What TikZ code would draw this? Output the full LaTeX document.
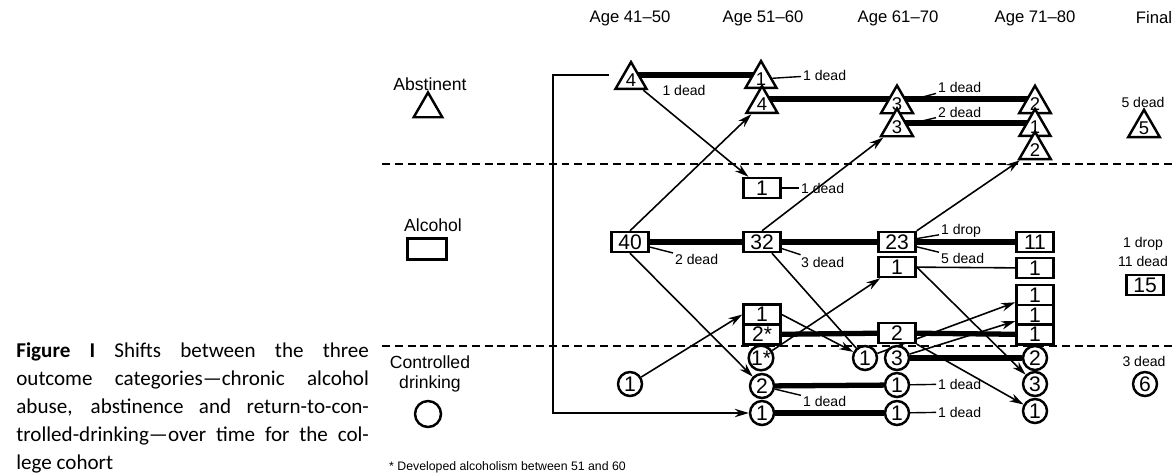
\documentclass[tikz,border=0pt]{standalone}
\usepackage{fontspec}
\setmainfont{Liberation Sans}
\newfontfamily\capfont{Carlito}
\usetikzlibrary{calc,arrows.meta,shapes.geometric,backgrounds}
\tikzset{
    every node/.style={
        font=\fontsize{10}{11.5}\selectfont
    },
    alc/.style={
        shape=rectangle,
        draw,
        line width=1.4pt,
        fill=white,
        minimum width=0.74cm,
        minimum height=0.4cm,
        inner sep=0pt,
        font=\fontsize{12}{13}\selectfont
    },
    ctl/.style={
        shape=circle,
        draw,
        line width=1.4pt,
        fill=white,
        minimum size=0.48cm,
        inner sep=0pt,
        font=\fontsize{12}{13}\selectfont
    },
    abst/.style={
        shape=regular polygon,
        regular polygon sides=3,
        draw,
        line width=1.4pt,
        fill=white,
        minimum size=0.66cm,
        inner sep=0pt,
        font=\fontsize{10.5}{11}\selectfont
    }
}

\begin{document}
\begin{tikzpicture}[
		x=0.02cm, y=-0.02cm,
		>={Stealth[length=8pt,width=4.8pt]},
		head/.style={font=\fontsize{9.5}{11}\selectfont},
		dead/.style={font=\fontsize{8}{9}\selectfont, inner sep=1pt},
		stay/.style={line width=3pt},
		move/.style={line width=0.9pt},
		tick/.style={line width=0.8pt},
		sep/.style={dash pattern=on 4.5pt off 2.8pt, line width=1.2pt}
		]
		\useasboundingbox (0,0) rectangle (1173,474);
		
		\node (h1) at (630,18) [head] {Age 41–50};
		\node (h2) at (763,18) [head] {Age 51–60};
		\node (h3) at (898,18) [head] {Age 61–70};
		\node (h4) at (1035,18) [head] {Age 71–80};
		\node (h5) at (1154,18) [head] {Final};
		
		% legend
		\node (lga) at (430,84) {Abstinent};
		\node (lgat) at (428,109) [abst] {};
		\node (lgb) at (433,225) {Alcohol};
		\node (lgbb) at (427,249) [alc, minimum width=0.78cm, minimum height=0.42cm] {};
		\node (lgc) at (430,374) [align=center] {Controlled\\drinking};
		\node (lgcc) at (428,414) [ctl, minimum size=0.52cm] {};
		
		\draw [sep] (382,164) -- (1173,164);
		\draw [sep] (382,346) -- (1173,346);
		
		% age 41-50
		\node (t41) at (631,80) [abst] {4};
		\node (b41) at (630,242) [alc] {40};
		\node (c41) at (630,384) [ctl] {1};
		
		% age 51-60
		\node (t51a) at (761,79) [abst] {1};
		\node (t51b) at (762,104) [abst] {4};
		\node (b51a) at (762,188) [alc] {1};
		\node (b51b) at (762,242) [alc] {32};
		\node (b51c) at (762,314.5) [alc] {1};
		\node (b51d) at (762,334.5) [alc] {2*};
		\node (c51a) at (761,358) [ctl] {1*};
		\node (c51b) at (762,386) [ctl] {2};
		\node (c51c) at (762,413) [ctl] {1};
		
		% age 61-70
		\node (t61a) at (897,104) [abst] {3};
		\node (t61b) at (897,127) [abst] {3};
		\node (b61a) at (897,242) [alc] {23};
		\node (b61b) at (897,267) [alc] {1};
		\node (b61c) at (897,333) [alc] {2};
		\node (c61a) at (865,358) [ctl] {1};
		\node (c61b) at (897,358) [ctl] {3};
		\node (c61c) at (897,385) [ctl] {1};
		\node (c61d) at (897,413) [ctl] {1};
		
		% age 71-80
		\node (t71a) at (1035,104) [abst] {2};
		\node (t71b) at (1035,127) [abst] {1};
		\node (t71c) at (1035,150) [abst] {2};
		\node (b71a) at (1035,242) [alc] {11};
		\node (b71b) at (1035,268) [alc] {1};
		\node (b71c) at (1035,295) [alc] {1};
		\node (b71d) at (1035,315) [alc] {1};
		\node (b71e) at (1035,334.5) [alc] {1};
		\node (c71a) at (1035,358) [ctl] {2};
		\node (c71b) at (1035,384) [ctl] {3};
		\node (c71c) at (1035,411) [ctl] {1};
		
		% final
		\node (f1) at (1143,102) [dead] {5 dead};
		\node (tf) at (1144,128) [abst] {5};
		\node (f2) at (1143,244) [dead] {1 drop};
		\node (f3) at (1143,261) [dead] {11 dead};
		\node (bf) at (1145,285) [alc] {15};
		\node (f4) at (1144,361) [dead] {3 dead};
		\node (cf) at (1145,384) [ctl] {6};
		
		% deaths and drop-outs
		\node (d41) at (684,90) [dead] {1 dead};
		\node (d51a) at (801,75) [dead, anchor=west] {1 dead};
		\node (d61a) at (936,87) [dead, anchor=west] {1 dead};
		\node (d61b) at (936,112) [dead, anchor=west] {2 dead};
		\node (d51b) at (799,188) [dead, anchor=west] {1 dead};
		\node (d41b) at (673,259) [dead, anchor=west] {2 dead};
		\node (d51c) at (799,262) [dead, anchor=west] {3 dead};
		\node (p61) at (939,231) [dead, anchor=west] {1 drop};
		\node (d61c) at (939,258) [dead, anchor=west] {5 dead};
		\node (d51d) at (801,401) [dead, anchor=west] {1 dead};
		\node (d61d) at (936,384) [dead, anchor=west] {1 dead};
		\node (d61e) at (936,412) [dead, anchor=west] {1 dead};
		
		\coordinate (brtop) at (609,75);
		\coordinate (brbot) at (553,413);
		
		\node (note) at (383,470) [anchor=base west, font=\fontsize{7}{8}\selectfont] {* Developed alcoholism between 51 and 60};
		
		\node (cap) at (16,357) [anchor=base west, inner sep=0pt, text width=200.7pt, align=justify, font=\capfont\fontsize{12}{16}\selectfont] {{\bfseries Figure I} Shifts between the three\linebreak outcome categories—chronic alcohol\linebreak abuse, abstinence and return-to-con-\linebreak trolled-drinking—over time for the col-\linebreak lege cohort};
		
		\begin{scope}[on background layer]
		\draw [stay] ($(t41.center)+(0,-5)$) -- ($(t51a.center)+(0,-4)$);
		\draw [stay] ($(t51b.center)+(0,-5)$) -- ($(t61a.center)+(0,-5)$) -- ($(t71a.center)+(0,-5)$);
		\draw [stay] ($(t61b.center)+(0,-4)$) -- ($(t71b.center)+(0,-4)$);
		\draw [stay] (b41) -- (b51b);
		\draw [stay] (b51b) -- (b61a);
		\draw [stay] (b61a) -- (b71a);
		\draw [stay] (b51d) -- (b61c);
		\draw [stay] (b61c) -- (b71e);
		\draw [stay] (c61b) -- (c71a);
		\draw [stay] (c51b) -- (c61c);
		\draw [stay] (c51c) -- (c61d);
		\draw [move] (b61b) -- (b71b);
		
		\draw [move, ->] (t41) -- (b51a);
		\draw [move, ->] (b41.north) -- (t51b);
		\draw [move, ->] (b41.south) -- (c51b);
		\draw [move, ->] (c41) -- (b51c.west);
		\draw [move, ->] (b51b.north) -- (t61b);
		\draw [move, ->] (b61a.north east) -- (t71c);
		\draw [move, ->] (c51a) -- (b61b);
		\draw [move, ->] (b61b.east) -- (c71b);
		\draw [move, ->] (b51c.east) -- (c61a);
		\draw [move] (b51b) -- (c61a);
		\draw [move, ->] (c61a) -- (b71c);
		\draw [move, ->] (c61b) -- (b71d);
		\draw [move, ->] (b61c) -- (c71c);
		\draw [move, ->] (brtop) -| (brbot) -- (c51c);
		
		\draw [tick] (t51a) -- (d51a);
		\draw [tick] (t61a) -- (d61a);
		\draw [tick] (t61b) -- (d61b);
		\draw [tick] (b51a) -- (d51b);
		\draw [tick] (b41) -- (d41b);
		\draw [tick] (b51b) -- (d51c);
		\draw [tick] (b61a) -- (p61);
		\draw [tick] (b61a) -- (d61c);
		\draw [tick] (c51b) -- (d51d);
		\draw [tick] (c61c) -- (d61d);
		\draw [tick] (c61d) -- (d61e);
		\end{scope}
	\end{tikzpicture}
\end{document}
